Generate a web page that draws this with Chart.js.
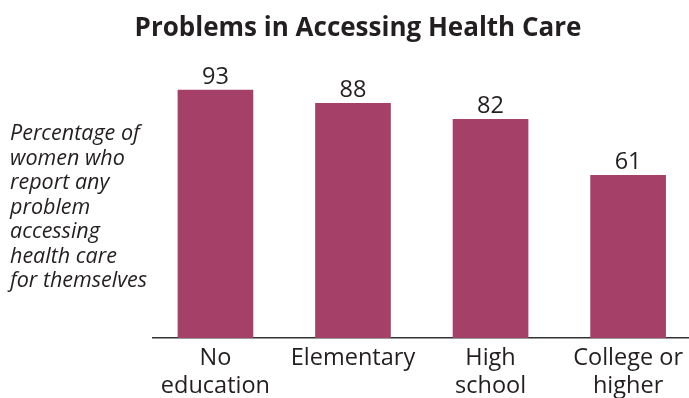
<!DOCTYPE html>
<html>
<head>
<meta charset="utf-8">
<script src="https://cdn.jsdelivr.net/npm/chart.js@4.4.0/dist/chart.umd.min.js"></script>
<style>
  html, body { margin: 0; padding: 0; background: #fff; overflow: hidden; }
  #wrap { position: relative; width: 689px; height: 398px; }
  #c { position: absolute; left: 0; top: 0; }
  #title { position: absolute; left: 0; top: 8px; width: 716px; text-align: center;
    font-family: "Open Sans", sans-serif; font-weight: 700; font-size: 26px; color: #231F20;
    letter-spacing: 0px; white-space: nowrap; }
  #side { position: absolute; left: 10px; top: 120px; font-family: "Open Sans", sans-serif;
    font-style: italic; font-size: 21.5px; line-height: 24.5px; color: #231F20; letter-spacing: 0px; }
</style>
</head>
<body>
<div id="wrap">
  <canvas id="c" width="689" height="398"></canvas>
  <div id="title">Problems in Accessing Health Care</div>
  <div id="side">Percentage of<br>women who<br>report any<br>problem<br>accessing<br>health care<br>for themselves</div>
</div>
<script>
const categories = [["No", "education"], "Elementary", ["High", "school"], ["College or", "higher"]];
const values = [93, 88, 82, 61];
const barColor = "#A54068";
const textColor = "#231F20";

const valueLabels = {
  id: "valueLabels",
  afterDatasetsDraw(chart) {
    const ctx = chart.ctx;
    const meta = chart.getDatasetMeta(0);
    ctx.save();
    ctx.fillStyle = textColor;
    ctx.font = '23.5px "Open Sans", sans-serif';
    ctx.textAlign = "center";
    ctx.textBaseline = "alphabetic";
    meta.data.forEach((bar, i) => {
      ctx.fillText(String(values[i]), bar.x, bar.y - 6);
    });
    ctx.restore();
  }
};

new Chart(document.getElementById("c"), {
  type: "bar",
  data: {
    datasets: [{
      data: values.map((v, i) => ({ x: i, y: v })),
      backgroundColor: barColor,
      barThickness: 75,
      borderWidth: 0
    }]
  },
  options: {
    responsive: false,
    animation: false,
    devicePixelRatio: 1,
    layout: { padding: { left: 153, right: 0, top: 71.3, bottom: 0 } },
    plugins: { legend: { display: false }, tooltip: { enabled: false }, title: { display: false } },
    scales: {
      x: {
        type: "linear",
        offset: false,
        min: -0.4539,
        max: 3.4394,
        afterFit(scale) { scale.height = 60; },
        grid: { display: false, drawTicks: false, offset: false },
        border: { display: true, color: "#333333", width: 1.5 },
        ticks: {
          stepSize: 1,
          autoSkip: false,
          includeBounds: false,
          maxRotation: 0,
          padding: 6,
          color: textColor,
          font: { family: '"Open Sans", sans-serif', size: 23.5, lineHeight: 1.2 },
          callback: (v) => Number.isInteger(v) && v >= 0 && v < categories.length ? categories[v] : ""
        }
      },
      y: { min: 0, max: 100, display: false }
    }
  },
  plugins: [valueLabels]
});
</script>
</body>
</html>
